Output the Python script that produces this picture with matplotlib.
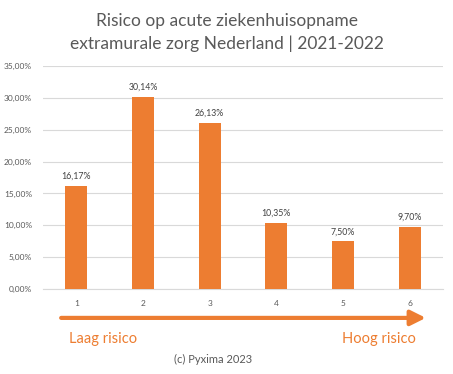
import matplotlib.pyplot as plt
from matplotlib.ticker import FuncFormatter

categories = ["1", "2", "3", "4", "5", "6"]
values = [16.17, 30.14, 26.13, 10.35, 7.50, 9.70]
y_ticks = [0, 5, 10, 15, 20, 25, 30, 35]

orange = "#ED7D31"
grey_text = "#595959"

plt.rcParams["font.family"] = ["Lato", "DejaVu Sans"]

fig = plt.figure(figsize=(4.53, 3.74), dpi=100)
ax = fig.add_axes([0.095, 0.227, 0.883, 0.5965])

x = range(len(categories))
bars = ax.bar(x, values, width=0.33, color=orange, zorder=3)
for xi, v in zip(x, values):
    ax.text(xi, v + 0.8, f"{v:.2f}%".replace(".", ","), ha="center", va="bottom",
            fontsize=6.3, color="#404040")

ax.set_xlim(-0.5, len(categories) - 0.5)
ax.set_ylim(0, 35)
ax.set_yticks(y_ticks)
ax.yaxis.set_major_formatter(FuncFormatter(lambda v, p: f"{v:.2f}%".replace(".", ",")))
ax.set_xticks(list(x))
ax.set_xticklabels(categories)
ax.tick_params(axis="both", length=0, labelsize=6, labelcolor=grey_text)
ax.tick_params(axis="x", pad=8)
ax.tick_params(axis="y", pad=8)
ax.grid(axis="y", color="#D9D9D9", linewidth=0.8, zorder=0)
for s in ["top", "right", "left"]:
    ax.spines[s].set_visible(False)
ax.spines["bottom"].set_color("#D9D9D9")

fig.text(0.5, 0.945, "Risico op acute ziekenhuisopname", ha="center", va="center",
         fontsize=12.5, color=grey_text)
fig.text(0.5, 0.882, "extramurale zorg Nederland | 2021-2022", ha="center", va="center",
         fontsize=12.5, color=grey_text)

ax.annotate("", xy=(0.94, 0.150), xytext=(0.135, 0.150), xycoords="figure fraction",
            arrowprops=dict(arrowstyle="-|>,head_length=0.9,head_width=0.45",
                            color=orange, lw=3, shrinkA=0, shrinkB=0))
fig.text(0.152, 0.093, "Laag risico", ha="left", va="center", fontsize=10.5, color=orange)
fig.text(0.918, 0.093, "Hoog risico", ha="right", va="center", fontsize=10.5, color=orange)
fig.text(0.47, 0.040, "(c) Pyxima 2023", ha="center", va="center", fontsize=8, color=grey_text)

fig.savefig("out.png", dpi=100, facecolor="white")
